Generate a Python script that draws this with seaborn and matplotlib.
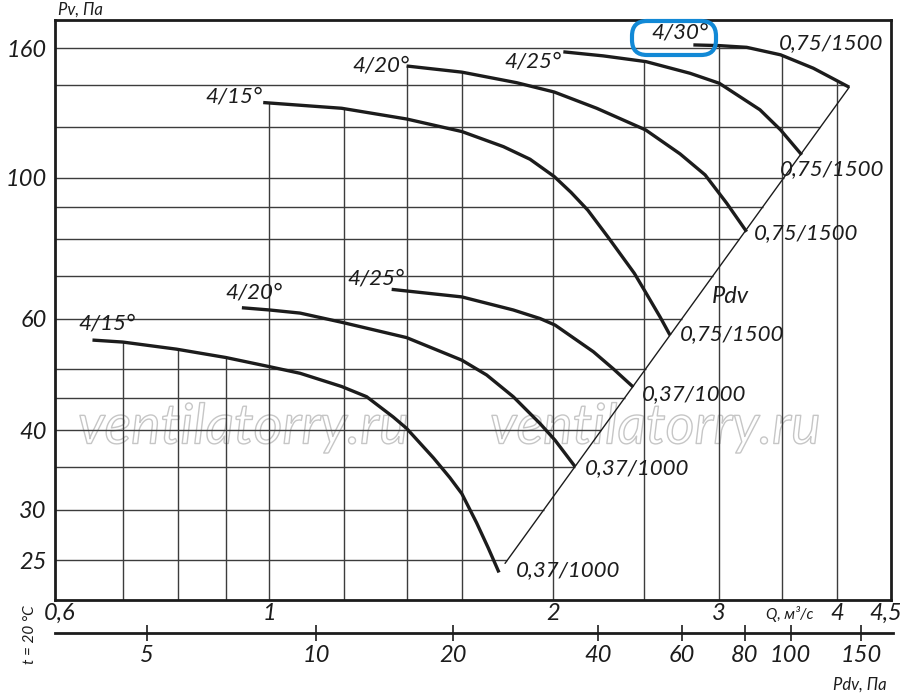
import numpy as np
import pandas as pd
import matplotlib
matplotlib.use("Agg")
import matplotlib.pyplot as plt
import matplotlib.patheffects as pe
from matplotlib.patches import FancyBboxPatch
from matplotlib.transforms import IdentityTransform
from matplotlib.ticker import NullLocator
import seaborn as sns

# ---------------- data ----------------
# 0.75 kW / 1500 rpm curves
q_15_hi = [0.986, 1.194, 1.399, 1.601, 1.772, 1.891, 2.006, 2.090, 2.177, 2.289, 2.439, 2.507, 2.598, 2.661]
p_15_hi = [131.3, 128.6, 123.7, 118.2, 111.9, 106.9, 100.4, 94.8, 88.9, 80.5, 70.7, 66.0, 60.3, 56.5]
q_20_hi = [1.399, 1.601, 1.830, 2.006, 2.225, 2.507, 2.727, 2.899, 3.055, 3.208]
p_20_hi = [149.9, 146.6, 141.1, 136.4, 128.6, 118.9, 109.0, 101.0, 91.2, 82.2]
q_25_hi = [2.051, 2.261, 2.509, 2.794, 3.001, 3.314, 3.485, 3.670]
p_25_hi = [157.8, 155.5, 152.3, 146.0, 140.8, 127.9, 118.9, 108.6]
q_30_hi = [2.817, 3.001, 3.208, 3.485, 3.775, 4.121]
p_30_hi = [161.8, 161.4, 160.4, 156.1, 148.7, 138.8]
# 0.37 kW / 1000 rpm curves
q_15_lo = [0.650, 0.700, 0.798, 0.900, 1.001, 1.079, 1.194, 1.269, 1.354, 1.399, 1.494, 1.555, 1.601, 1.660, 1.708, 1.753]
p_15_lo = [55.5, 55.1, 53.7, 52.1, 50.4, 49.2, 46.9, 45.2, 42.0, 40.3, 36.2, 33.7, 31.8, 28.6, 26.1, 23.9]
q_20_lo = [0.936, 1.001, 1.079, 1.194, 1.399, 1.601, 1.701, 1.815, 1.938, 2.010, 2.110]
p_20_lo = [62.4, 61.9, 61.2, 59.2, 56.0, 51.6, 48.9, 45.2, 41.0, 38.6, 35.1]
q_25_lo = [1.349, 1.601, 1.815, 1.938, 2.010, 2.207, 2.317, 2.433]
p_25_lo = [66.7, 64.9, 61.9, 60.0, 58.6, 53.2, 50.0, 46.8]

angle_labels = ["4/15°", "4/20°", "4/25°", "4/30°", "4/15°", "4/20°", "4/25°"]
motor_labels = ["0,75/1500"] * 4 + ["0,37/1000"] * 3

# Pdv line (end points)
pdv_line_q = [1.779, 4.121]
pdv_line_p = [24.7, 138.8]

# grid values
grid_q = [0.7, 0.8, 0.9, 1, 1.2, 1.4, 1.6, 2, 2.5, 3, 3.5, 4]
grid_p = [25, 30, 35, 40, 45, 50, 60, 70, 80, 90, 100, 120, 140, 160]

# axis ticks
q_ticks = [0.6, 1, 2, 3, 4, 4.5]
q_tick_labels = ["0,6", "1", "2", "3", "4", "4,5"]
p_ticks = [25, 30, 40, 60, 100, 160]
p_tick_labels = ["25", "30", "40", "60", "100", "160"]
pdv_tick_labels = ["5", "10", "20", "40", "60", "80", "100", "150"]
pdv_tick_q = [0.742, 1.121, 1.563, 2.227, 2.727, 3.18, 3.557, 4.22]

# ---------------- style ----------------
sns.set_theme(style="white")
plt.rcParams["font.family"] = ["Lato", "DejaVu Sans"]
plt.rcParams["font.style"] = "italic"
INK = "#1c1c1c"
GRID = "#3c3c3c"

XLIM = (0.5932, 4.563)
YLIM = (21.63, 177.1)

fig = plt.figure(figsize=(9, 6.96), dpi=100)
ax = fig.add_axes([55 / 900, 1 - 600 / 696, 836 / 900, 580 / 696])
ax.set_xscale("log")
ax.set_yscale("log")

curves = [
    ("15h", q_15_hi, p_15_hi), ("20h", q_20_hi, p_20_hi),
    ("25h", q_25_hi, p_25_hi), ("30h", q_30_hi, p_30_hi),
    ("15l", q_15_lo, p_15_lo), ("20l", q_20_lo, p_20_lo),
    ("25l", q_25_lo, p_25_lo),
]
rows = []
for name, qs, ps in curves:
    for q, p in zip(qs, ps):
        rows.append({"curve": name, "Q": q, "P": p})
df = pd.DataFrame(rows)

sns.lineplot(data=df, x="Q", y="P", hue="curve",
             palette=[INK] * len(curves), estimator=None, sort=False,
             legend=False, lw=2.4, ax=ax, zorder=5,
             solid_joinstyle="round", solid_capstyle="butt")
ax.set_xlim(*XLIM)
ax.set_ylim(*YLIM)


def interp_log(x, xs, ys):
    return 10 ** np.interp(np.log10(x), np.log10(xs), np.log10(ys))


# vertical grid lines: up to the upper envelope of the curves
for q in grid_q:
    tops = [interp_log(q, qs, ps) for _, qs, ps in curves if qs[0] <= q <= qs[-1]]
    top = max(tops) if tops else YLIM[1]
    ax.vlines(q, YLIM[0], top, color=GRID, lw=1.0, zorder=2)

# horizontal grid lines: up to the Pdv line (or the 4/30 curve above it)
lq0, lq1 = np.log10(pdv_line_q)
lp0, lp1 = np.log10(pdv_line_p)
for p in grid_p:
    if p <= pdv_line_p[1]:
        right = 10 ** (lq0 + (np.log10(p) - lp0) * (lq1 - lq0) / (lp1 - lp0))
    else:
        right = 10 ** np.interp(np.log10(p), np.log10(p_30_hi[::-1]), np.log10(q_30_hi[::-1]))
    ax.hlines(p, XLIM[0], right, color=GRID, lw=1.0, zorder=2)

# Pdv line
ax.plot(pdv_line_q, pdv_line_p, color=INK, lw=1.0, zorder=3)
ax.annotate("Pdv", xy=(pdv_line_q[0], pdv_line_p[0]), xycoords="data",
            xytext=(207, 267), textcoords="offset pixels",
            ha="left", va="center", fontsize=17, color=INK)

# curve labels
start_off = [(-1, 6), (3, 0), (-2, -10), (15, 12), (43, 17), (41, 15), (13, 11)]
end_off = [(10, 1), (7, -1), (-22, -14), (-70, 44), (17, 2), (10, -2), (9, -7)]
for (name, qs, ps), lab, mot, so, eo in zip(curves, angle_labels, motor_labels, start_off, end_off):
    ax.annotate(lab, xy=(qs[0], ps[0]), xytext=so, textcoords="offset pixels",
                ha="right", va="center", fontsize=16, color=INK, zorder=6)
    ax.annotate(mot, xy=(qs[-1], ps[-1]), xytext=eo, textcoords="offset pixels",
                ha="left", va="center", fontsize=16, color=INK, zorder=6)

# axes ticks
ax.set_xticks(q_ticks)
ax.set_xticklabels(q_tick_labels)
ax.set_yticks(p_ticks)
ax.set_yticklabels(p_tick_labels)
ax.xaxis.set_minor_locator(NullLocator())
ax.yaxis.set_minor_locator(NullLocator())
ax.tick_params(axis="both", length=0, labelsize=17, colors=INK)
ax.tick_params(axis="x", pad=2)
ax.tick_params(axis="y", pad=6)
ax.set_xlabel("")
ax.set_ylabel("")
for s in ax.spines.values():
    s.set_visible(True)
    s.set_linewidth(2.0)
    s.set_color(INK)
    s.set_zorder(7)

# watermark (outline only, under the grid)
for xc in (243, 655):
    ax.text(xc / 900, 1 - 428 / 696, "ventilatorry.ru", transform=fig.transFigure,
            ha="center", va="center", fontsize=40, color=(1, 1, 1, 0),
            path_effects=[pe.Stroke(linewidth=1.0, foreground="#c6c6c6")],
            zorder=1)

# secondary Pdv scale
ax2 = fig.add_axes([55 / 900, 1 - 633 / 696, 838 / 900, 0.0001])
ax2.set_xscale("log")
ax2.set_xlim(*XLIM)
ax2.set_xticks(pdv_tick_q)
ax2.set_xticklabels(pdv_tick_labels)
ax2.xaxis.set_minor_locator(NullLocator())
ax2.set_yticks([])
ax2.patch.set_visible(False)
for k, s in ax2.spines.items():
    s.set_visible(k == "bottom")
ax2.spines["bottom"].set_linewidth(2.0)
ax2.spines["bottom"].set_color(INK)
ax2.tick_params(axis="x", bottom=True, direction="inout", length=11, width=1.2,
                pad=3, labelsize=17, colors=INK)

# texts
fig.text(80 / 900, 1 - 10 / 696, "Pv, Па", ha="center", va="center", fontsize=12, color=INK)
fig.text(790 / 900, 1 - 614 / 696, "Q, м³/с", ha="center", va="center", fontsize=11, color=INK)
fig.text(860 / 900, 1 - 685 / 696, "Pdv, Па", ha="center", va="center", fontsize=12, color=INK)
fig.text(30 / 900, 1 - 635 / 696, "t = 20 °C", ha="center", va="center", rotation=90,
         fontsize=11, color=INK)

# highlight box round "4/30°"
fig.add_artist(FancyBboxPatch((632, 696 - 55), 84, 34,
                              boxstyle="round,pad=0,rounding_size=15",
                              transform=IdentityTransform(),
                              ec="#1289d6", fc="none", lw=3, zorder=10))

fig.savefig("out.png", dpi=100)
